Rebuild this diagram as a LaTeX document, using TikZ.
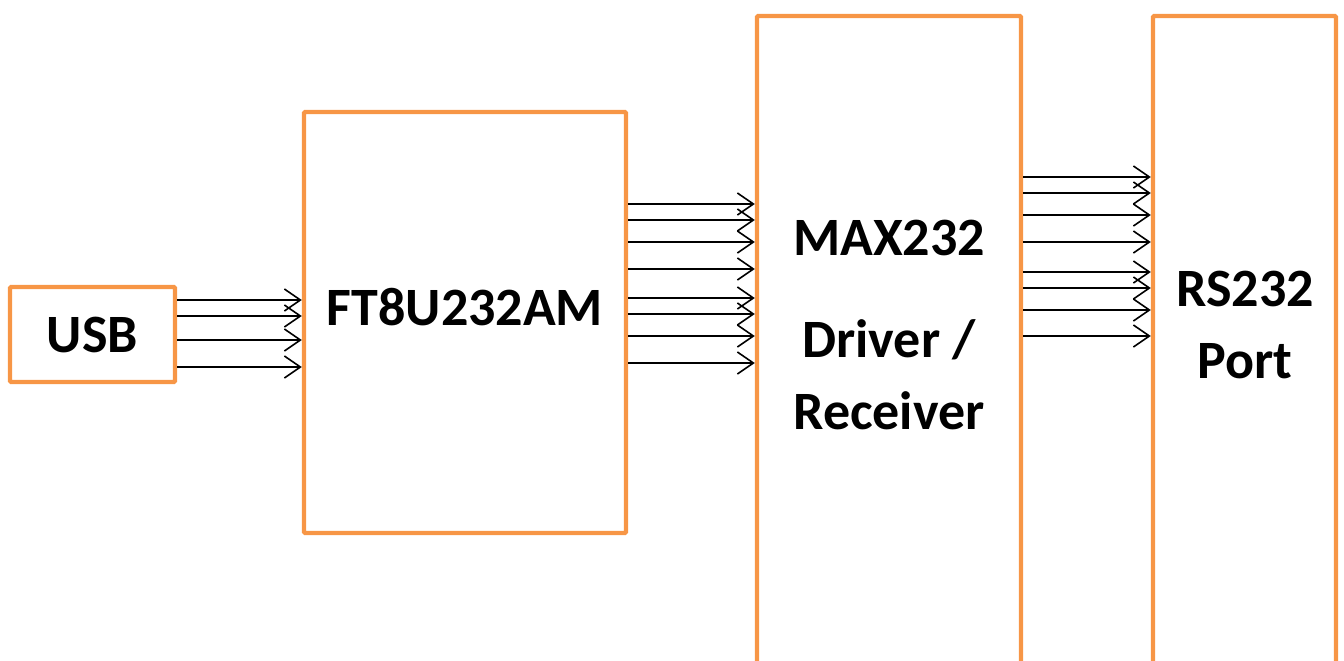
\documentclass[tikz,border=0pt]{standalone}
\usepackage{fontspec}
\setmainfont{Carlito}
\usetikzlibrary{arrows.meta,positioning}
\definecolor{boxorange}{RGB}{247,150,70}
\tikzset{
    blocksty/.style={draw=boxorange,line width=2.2pt,rectangle,rounded corners=0.6pt,inner sep=0pt},
    namesty/.style={font=\bfseries\fontsize{27}{36}\selectfont,align=center,inner sep=0pt},
    sigsty/.style={->,line width=0.8pt},
}

\begin{document}
\begin{tikzpicture}[x=0.5pt,y=-0.5pt,>={Straight Barb[length=8pt,width=11pt]}]
  \useasboundingbox (0,0) rectangle (1344,660);
  \clip (0,0) rectangle (1344,660);

  % blocks
  \node[blocksty,minimum width=82.5pt,minimum height=47.5pt] (usb) at (92.5,334.5) {};
  \node[blocksty,minimum width=161pt,minimum height=210.5pt] (ft) at (465,322.5) {};
  \node[blocksty,minimum width=132pt,minimum height=342pt] (max) at (889,358) {};
  \node[blocksty,minimum width=91.5pt,minimum height=342pt] (rs) at (1244.5,358) {};

  % names
  \node[namesty] (usbname) at (usb.center) {USB};
  \node[namesty] (ftname) at ([yshift=7.5pt]ft.center) {FT8U232AM};
  \node[namesty] (maxname) at (889,324.5) {MAX232\\[15pt]Driver /\\Receiver};
  \node[namesty] (rsname) at (1245,325) {RS232\\Port};

  % signal lines
  \foreach \y in {300,316,340,367}{
    \coordinate (lvl) at (0,\y);
    \draw[sigsty] (usb.east |- lvl) -- (ft.west |- lvl);
  }
  \foreach \y in {204,220,242,269,298,314,336,363}{
    \coordinate (lvl) at (0,\y);
    \draw[sigsty] (ft.east |- lvl) -- (max.west |- lvl);
  }
  \foreach \y in {177,193,215,242,272,288,310,336}{
    \coordinate (lvl) at (0,\y);
    \draw[sigsty] (max.east |- lvl) -- (rs.west |- lvl);
  }
\end{tikzpicture}
\end{document}
